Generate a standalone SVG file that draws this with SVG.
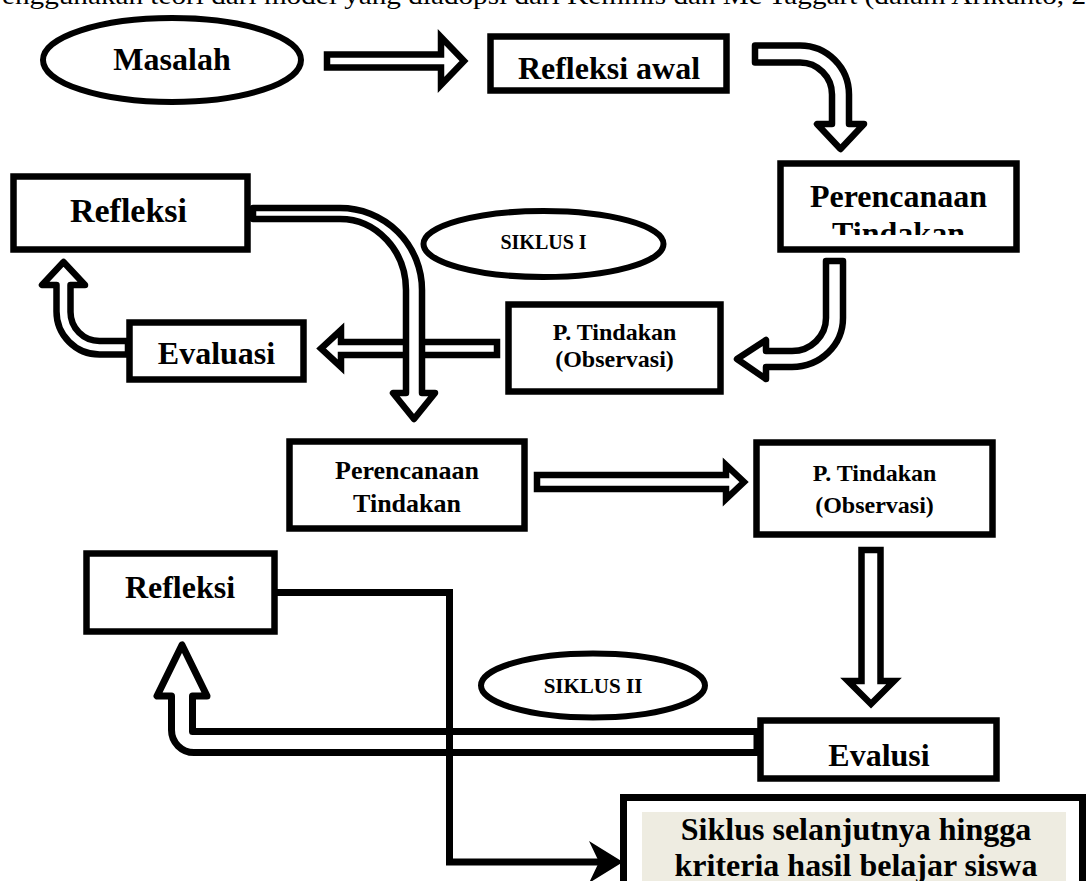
<svg xmlns="http://www.w3.org/2000/svg" width="1086" height="881" viewBox="0 0 1086 881">
<style>
.box{fill:#fff;stroke:#000;stroke-width:6.5}
.ell{fill:#fff;stroke:#000;stroke-width:6}
.arr{fill:#fff;stroke:#000;stroke-width:6.5;stroke-linejoin:round}
.arm{fill:#fff;stroke:#000;stroke-width:6.5;stroke-linejoin:miter}
.t{font-family:"Liberation Serif","Times New Roman",serif;font-weight:bold;text-anchor:middle;fill:#000}
.line{fill:none;stroke:#000;stroke-width:7}
</style>
<defs>
<clipPath id="clipPT"><rect x="784" y="167" width="230" height="68"/></clipPath>
</defs>
<rect width="1086" height="881" fill="#fff"/>
<text x="2" y="4" font-family="Liberation Serif, Times New Roman, serif" font-size="26" textLength="1084" lengthAdjust="spacingAndGlyphs" fill="#000">enggunakan teori dari model yang diadopsi dari Kemmis dan Mc Taggart (dalam Arikunto, 2</text>

<g id="connectors">
<path id="a-masalah" class="arm" d="M327 54.5 L441 54.5 L441 37 L464 61 L441 85 L441 67.5 L327 67.5 Z"/>
<path id="a-refawal" class="arr" d="M755 45.5 L800 45.5 A49 49 0 0 1 849 94.5 L849 124 L864 124 L840.5 149 L817 124 L832 124 L832 94.5 A32 32 0 0 0 800 62.5 L755 62.5 Z"/>
<path id="a-perenc1" class="arr" d="M826 261 L843 261 L843 318 A51 49 0 0 1 792 367 L766 367 L766 379 L737 359 L766 340 L766 351 L792 351 A34 33 0 0 0 826 318 Z"/>
<path id="a-ptind1" class="arm" d="M497 342 L341 342 L341 330 L321 348.5 L341 367 L341 355 L497 355 Z"/>
<path id="a-eval1" class="arr" d="M128 341 L99.5 341 A29 29 0 0 1 70.5 312 L70.5 285 L85 285 L63.5 262 L42 285 L56.5 285 L56.5 311.5 A43 43 0 0 0 99.5 354.5 L128 354.5 Z"/>
<path id="a-refl1" class="arr" d="M253 208 L340 208 A82 82 0 0 1 422 290 L422 393 L435 393 L414 419 L393 393 L406 393 L406 290 A66 71 0 0 0 340 219 L253 219 Z"/>
<path id="a-perenc2" class="arm" d="M537 475 L726 475 L726 465 L744 482 L726 499 L726 489 L537 489 Z"/>
<path id="a-ptind2" class="arm" d="M861.5 550 L880.5 550 L880.5 681 L894 681 L871 704 L848 681 L861.5 681 Z"/>
<path id="a-eval2" class="arr" style="stroke-width:7" d="M757 731.5 L192.5 731.5 L192.5 696 L207 696 L182 645 L157 696 L171.5 696 L171.5 730 A22.5 22.5 0 0 0 194 752.5 L757 752.5 Z"/>
<polyline id="c-next" class="line" points="276,592.5 449.5,592.5 449.5,862 603,862"/>
<polygon id="c-next-head" fill="#000" points="623,862 589,841 599,862 589,883"/>
</g>

<g id="n-masalah">
<ellipse class="ell" cx="172" cy="60" rx="129" ry="42"/>
<text class="t" x="172" y="70" font-size="32">Masalah</text>
</g>
<g id="n-refleksi-awal">
<rect class="box" x="490.5" y="36.5" width="236" height="54"/>
<text class="t" x="609" y="79" font-size="32">Refleksi awal</text>
</g>
<g id="n-perencanaan-1">
<rect class="box" x="780.5" y="163.5" width="236" height="86"/>
<g clip-path="url(#clipPT)">
<text class="t" x="898.5" y="207" font-size="32">Perencanaan</text>
<text class="t" x="898.5" y="244" font-size="32">Tindakan</text>
</g>
</g>
<g id="n-refleksi-1">
<rect class="box" x="13.5" y="176.5" width="234" height="73"/>
<text class="t" x="128.5" y="222" font-size="34">Refleksi</text>
</g>
<g id="n-siklus-1">
<ellipse class="ell" cx="543.5" cy="244" rx="120" ry="33"/>
<text class="t" x="543.5" y="249" font-size="20">SIKLUS I</text>
</g>
<g id="n-ptindakan-1">
<rect class="box" x="508.5" y="304.5" width="212" height="87"/>
<text class="t" x="614.5" y="340" font-size="24">P. Tindakan</text>
<text class="t" x="614.5" y="367" font-size="24">(Observasi)</text>
</g>
<g id="n-evaluasi">
<rect class="box" x="129.5" y="322.5" width="174" height="57"/>
<text class="t" x="216.5" y="364" font-size="32">Evaluasi</text>
</g>
<g id="n-perencanaan-2">
<rect class="box" x="289.5" y="441.5" width="235" height="87"/>
<text class="t" x="407" y="479" font-size="26">Perencanaan</text>
<text class="t" x="407" y="512" font-size="26">Tindakan</text>
</g>
<g id="n-ptindakan-2">
<rect class="box" x="756.5" y="442.5" width="236" height="92"/>
<text class="t" x="874.5" y="481" font-size="24">P. Tindakan</text>
<text class="t" x="874.5" y="513" font-size="24">(Observasi)</text>
</g>
<g id="n-refleksi-2">
<rect class="box" x="86.5" y="553.5" width="188" height="78"/>
<text class="t" x="180" y="598" font-size="32">Refleksi</text>
</g>
<g id="n-siklus-2">
<ellipse class="ell" cx="593" cy="685.5" rx="112" ry="32"/>
<text class="t" x="593" y="693" font-size="21">SIKLUS II</text>
</g>
<g id="n-evalusi">
<rect class="box" x="760.5" y="720.5" width="236" height="58"/>
<text class="t" x="879" y="766" font-size="32">Evalusi</text>
</g>
<g id="n-siklus-selanjutnya">
<rect class="box" style="stroke-width:7" x="623.5" y="797.5" width="459" height="120"/>
<rect x="642" y="812" width="424" height="74" fill="#eeece1"/>
<text class="t" x="856" y="840" font-size="32">Siklus selanjutnya hingga</text>
<text class="t" x="856" y="876" font-size="32">kriteria hasil belajar siswa</text>
</g>
</svg>
